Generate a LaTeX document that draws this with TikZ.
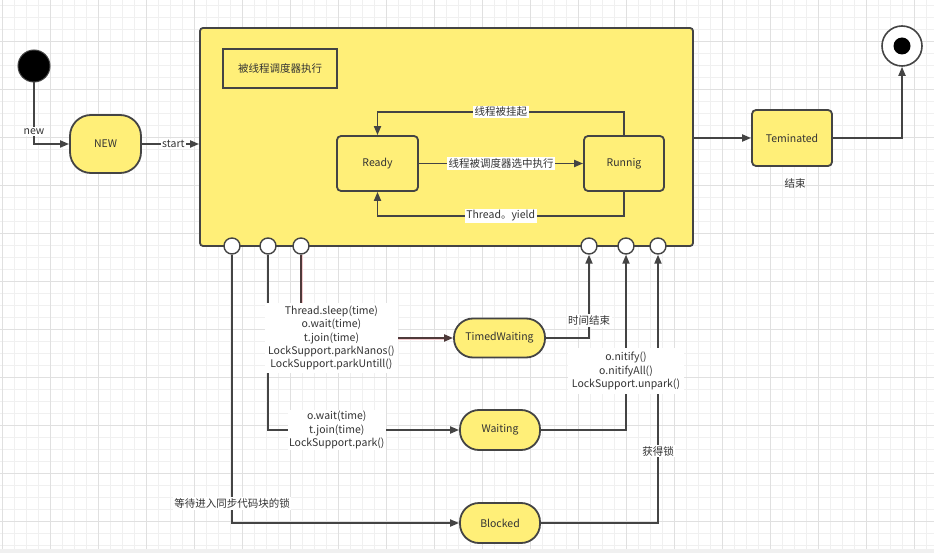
\documentclass[tikz,border=0pt]{standalone}
\usepackage{fontspec}
\setmainfont{Noto Sans CJK SC}
\usetikzlibrary{arrows.meta}
\definecolor{yel}{HTML}{FFEF78}
\definecolor{edge}{HTML}{444444}
\definecolor{txt}{HTML}{333333}
\definecolor{gminor}{HTML}{F0F0F0}
\definecolor{gmajor}{HTML}{E0E0E0}
\definecolor{redline}{HTML}{4E3A3A}
\definecolor{halo}{HTML}{F3C9CC}
\begin{document}
\begin{tikzpicture}[x=1pt,y=-1pt,
  every node/.style={text=txt, font=\fontsize{10.5}{13.3}\selectfont, inner sep=0pt},
  state/.style={draw=edge, line width=1.8pt, fill=yel, rounded corners=4pt, align=center},
  pill/.style={state, rounded corners=19pt},
  port/.style={circle, draw=edge, line width=1.4pt, fill=white, minimum size=16pt},
  arr/.style={draw=edge, line width=1.8pt, -{Triangle[length=9pt,width=7pt]}},
  plain/.style={draw=edge, line width=1.8pt},
  lbl/.style={fill=white, inner sep=1.5pt, align=center}]
\useasboundingbox (0,0) rectangle (934,553);
\fill[white] (0,0) rectangle (934,553);
\foreach \x in {2,14,...,932} \draw[gminor, line width=0.8pt] (\x,0) -- (\x,549);
\foreach \y in {5,17,...,549} \draw[gminor, line width=0.8pt] (0,\y) -- (934,\y);
\foreach \x in {2,50,...,932} \draw[gmajor, line width=0.9pt] (\x,0) -- (\x,549);
\foreach \y in {41,89,...,549} \draw[gmajor, line width=0.9pt] (0,\y) -- (934,\y);
\fill[gminor] (0,549) rectangle (934,553);

% main scheduler box
\node[state, rounded corners=3pt, minimum width=493pt, minimum height=218pt] (sched) at (446.5,137) {};
\node[draw=edge, line width=1.8pt, minimum width=114pt, minimum height=39pt] (title) at (280,68.5) {被线程调度器执行};
\node[state, minimum width=81pt, minimum height=55pt] (ready) at (377.5,163.5) {Ready};
\node[state, minimum width=80pt, minimum height=55pt] (run) at (624,163.5) {Runnig};

% start / new
\node[circle, fill=black, draw=edge, line width=1pt, minimum size=32pt] (init) at (34,66) {};
\node[pill, rounded corners=21pt, minimum width=71pt, minimum height=58pt] (new) at (105.5,144) {NEW};

% terminated / final
\node[state, minimum width=80pt, minimum height=56pt] (term) at (792,138) {Teminated};
\node at (795,184) {结束};
\node[circle, draw=edge, line width=1.6pt, fill=white, minimum size=40pt] (final) at (902,46) {};
\node[circle, fill=black, minimum size=17pt] at (final) {};

% lower states
\node[pill, minimum width=91pt, minimum height=39pt] (timed) at (499.5,338) {TimedWaiting};
\node[pill, minimum width=80pt, minimum height=40pt] (waiting) at (500,430) {Waiting};
\node[pill, minimum width=80pt, minimum height=40pt] (blocked) at (500,523) {Blocked};

% ports
\node[port] (p1) at (232,246) {};
\node[port] (p2) at (268,246) {};
\node[port] (p3) at (301,246) {};
\node[port] (p4) at (589,246) {};
\node[port] (p5) at (626,246) {};
\node[port] (p6) at (658,246) {};

% connectors top
\draw[arr] (init.south) |- node[lbl, pos=0.4] {new} (new.west);
\draw[arr] (new.east) -- node[lbl, pos=0.55] {start} (new.east -| sched.west);
\draw[arr] (ready) -- node[lbl] {线程被调度器选中执行} (run);
\coordinate (topy) at (0,112);
\coordinate (boty) at (0,216);
\draw[arr] (run.north) -- (run.north |- topy) -- node[lbl] {线程被挂起} (ready.north |- topy) -- (ready.north);
\draw[arr] (run.south) -- (run.south |- boty) -- node[lbl] {Thread。yield} (ready.south |- boty) -- (ready.south);
\draw[arr] (sched.east |- term) -- (term.west);
\draw[arr] (term.east) -| (final.south);

% lower connectors
\draw[arr] (p1.south) |- node[lbl, pos=0.463] {等待进入同步代码块的锁} (blocked.west);
\draw[arr] (p2.south) |- node[lbl, pos=0.68] {o.wait(time)\\t.join(time)\\LockSupport.park()} (waiting.west);
\draw[draw=halo, line width=3pt] (p3.south) |- ([xshift=-8pt]timed.west);
\draw[arr, draw=redline] (p3.south) |- node[lbl, pos=0.6, inner sep=3pt] {Thread.sleep(time)\\o.wait(time)\\t.join(time)\\LockSupport.parkNanos()\\LockSupport.parkUntill()} (timed.west);
\draw[arr] (timed.east) -| node[lbl, pos=0.607] {时间结束} (p4.south);
\draw[arr] (blocked.east) -| node[lbl, pos=0.634] {获得锁} (p6.south);
\draw[arr] (waiting.east) -| node[lbl, pos=0.668, inner sep=4pt] {o.nitify()\\o.nitifyAll()\\LockSupport.unpark()} (p5.south);
\end{tikzpicture}
\end{document}
